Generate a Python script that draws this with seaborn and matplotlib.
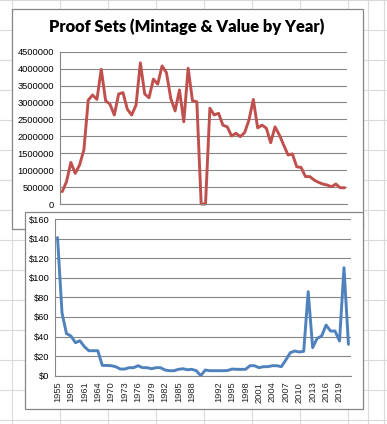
import numpy as np
import pandas as pd
import matplotlib
matplotlib.use("Agg")
import matplotlib.pyplot as plt
from matplotlib.patches import Rectangle
from matplotlib.lines import Line2D
import seaborn as sns

# Category labels (gap rows in the sheet have empty labels)
years = ([str(y) for y in range(1955, 1965)] + [str(y) for y in range(1968, 1991)]
         + ["", ""] + [str(y) for y in range(1991, 2022)])

# Mintage per category
mintage = [365000, 660000, 1230000, 905000, 1150000, 1600000, 3070000, 3220000, 3090000, 3980000,
           3050000, 2950000, 2630000, 3250000, 3290000, 2800000, 2630000, 2920000, 4170000, 3250000,
           3140000, 3690000, 3540000, 4080000, 3880000, 3120000, 2750000, 3370000, 2430000, 4010000,
           3050000, 3020000, 0, 0, 2830000, 2630000, 2680000, 2330000, 2280000, 2010000,
           2090000, 1990000, 2110000, 2480000, 3090000, 2250000, 2330000, 2240000, 1810000, 2280000,
           2040000, 1740000, 1450000, 1480000, 1100000, 1080000, 810000, 810000, 710000, 640000,
           590000, 560000, 510000, 590000, 480000, 480000]

# Value in dollars per category
value = [141, 64, 43, 40.5, 33.7, 35.7, 29.6, 25.5, 25.5, 25.5,
         10.5, 10.5, 10.2, 9.2, 6.8, 6.8, 8.2, 8.2, 10.2, 8.2,
         8.2, 7.1, 8.2, 8.2, 5.8, 5.1, 5.1, 6.5, 7.1, 6.1,
         6.5, 5.1, 0, 5.8, 5.1, 5.1, 5.1, 5.1, 5.3, 6.8,
         6.5, 6.5, 6.5, 10.2, 10.2, 8.2, 9.2, 9.2, 10.2, 10.2,
         9.2, 16, 23.5, 25.2, 24.2, 24.9, 85.8, 28.6, 38.1, 40.5,
         51.7, 45.6, 45.6, 35.4, 110.3, 32]

mint_ticks = list(range(0, 4500001, 500000))
value_ticks = list(range(0, 161, 20))

W, H = 387, 424
AXIS_GRAY = "#868686"
SHEET_GRAY = "#DADADA"


def fx(x):
    return x / W


def fy(y):
    return 1 - y / H


def box(x0, y0, x1, y1):
    return [fx(x0), fy(y1), fx(x1) - fx(x0), fy(y0) - fy(y1)]


sns.set_style("white")
plt.rcParams["font.family"] = ["Liberation Sans", "DejaVu Sans"]

df = pd.DataFrame({"pos": np.arange(len(years)), "year": years,
                   "mintage": mintage, "value": value})
n = len(df)

fig = plt.figure(figsize=(W / 100, H / 100), dpi=100)
fig.patch.set_facecolor("white")

# spreadsheet cell grid behind the charts
for x in [11.7 + 48 * k for k in range(8)] + [368.3, 384]:
    fig.add_artist(Line2D([fx(x), fx(x)], [0, 1], color=SHEET_GRAY, lw=0.8, zorder=-10))
for y in range(0, 424, 30):
    fig.add_artist(Line2D([0, 1], [fy(y), fy(y)], color=SHEET_GRAY, lw=0.8, zorder=-10))

# chart frames
fig.add_artist(Rectangle((fx(11.7), fy(229.3)), fx(363.3) - fx(11.7), fy(9.3) - fy(229.3),
                         facecolor="white", edgecolor=AXIS_GRAY, lw=0.9, zorder=-5))
fig.add_artist(Rectangle((fx(24.7), fy(409)), fx(363.3) - fx(24.7), fy(212.3) - fy(409),
                         facecolor="white", edgecolor=AXIS_GRAY, lw=0.9, zorder=0.5))

fig.text(fx(187), fy(27), "Proof Sets (Mintage & Value by Year)", ha="center", va="center",
         fontsize=11.9, fontweight="heavy", family=["Lato", "DejaVu Sans"], color="black",
         zorder=-3)


def style_axis(ax, ymax, ticks, labels):
    ax.set_facecolor("none")
    ax.set_xlim(-0.5, n - 0.5)
    ax.set_ylim(0, ymax)
    ax.set_yticks(ticks)
    ax.set_yticklabels(labels)
    ax.yaxis.grid(True, color=AXIS_GRAY, lw=0.8)
    ax.set_axisbelow(True)
    for s in ["top", "right"]:
        ax.spines[s].set_visible(False)
    for s in ["left", "bottom"]:
        ax.spines[s].set_color(AXIS_GRAY)
        ax.spines[s].set_linewidth(0.8)
    ax.set_xticks(np.arange(n + 1) - 0.5)
    ax.tick_params(axis="x", which="major", length=2.3, width=0.6, color=AXIS_GRAY,
                   direction="out", labelbottom=False)
    ax.tick_params(axis="y", length=1.6, width=0.6, color=AXIS_GRAY, pad=2.5,
                   labelsize=6.7, labelcolor="black")
    ax.set_xlabel("")
    ax.set_ylabel("")


# top chart: mintage
ax1 = fig.add_axes(box(60, 51.7, 346.7, 204))
ax1.set_zorder(-2)
sns.lineplot(data=df, x="pos", y="mintage", ax=ax1, color="#C0504D", linewidth=2.1,
             clip_on=False)
style_axis(ax1, 4500000, mint_ticks, [str(t) for t in mint_ticks])

# bottom chart: value
ax2 = fig.add_axes(box(55.3, 219, 350.7, 375.7))
ax2.set_zorder(1)
sns.lineplot(data=df, x="pos", y="value", ax=ax2, color="#4F81BD", linewidth=2.1,
             clip_on=False)
style_axis(ax2, 160, value_ticks, ["$%d" % t for t in value_ticks])

label_pos = df["pos"][::3]
ax2.set_xticks(label_pos, minor=True)
ax2.set_xticklabels(df["year"][::3], minor=True, rotation=90, fontsize=6.7)
ax2.tick_params(axis="x", which="minor", length=0, pad=4.3, labelbottom=True)

fig.savefig("out.png", dpi=100, facecolor="white")
